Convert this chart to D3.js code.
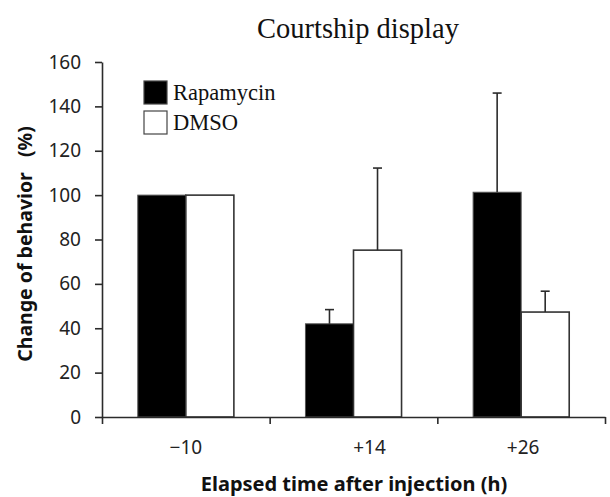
<!DOCTYPE html>
<html>
<head>
<meta charset="utf-8">
<script src="https://cdn.jsdelivr.net/npm/d3@7"></script>
<style>
  body { margin: 0; background: #fff; }
  svg { display: block; }
</style>
</head>
<body>
<svg id="chart" width="610" height="497"></svg>
<script>
// chart values
const groups = ['\u221210', '+14', '+26'];
const seriesNames = ['Rapamycin', 'DMSO'];
const rapamycin = [100, 42, 101.3];
const rapamycinErr = [0, 6.4, 44.7];
const dmso = [100, 75.2, 47.3];
const dmsoErr = [0, 37, 9.4];
const yTicks = [0, 20, 40, 60, 80, 100, 120, 140, 160];

const rows = groups.map((g, i) => ({
  group: g,
  values: [
    { key: seriesNames[0], value: rapamycin[i], err: rapamycinErr[i] },
    { key: seriesNames[1], value: dmso[i], err: dmsoErr[i] }
  ]
}));

const svg = d3.select('#chart');
const plotLeft = 102, plotRight = 605, plotTop = 62, plotBottom = 417;
const axisColor = '#2b2b2b';
const sans = "'Noto Sans', 'Open Sans', sans-serif";
const serif = "'Liberation Serif', 'DejaVu Serif', serif";

const color = d3.scaleOrdinal()
  .domain(seriesNames)
  .range(['#000000', '#ffffff']);

const x0 = d3.scaleBand()
  .domain(groups)
  .range([plotLeft, plotRight])
  .padding(0);

const x1 = d3.scaleBand()
  .domain(seriesNames)
  .range([0, x0.bandwidth()])
  .paddingInner(0)
  .paddingOuter(0.745);

const y = d3.scaleLinear()
  .domain([0, 160])
  .range([plotBottom, plotTop]);

// bars
const groupG = svg.append('g')
  .selectAll('g')
  .data(rows)
  .enter()
  .append('g')
  .attr('transform', d => `translate(${x0(d.group)},0)`);

groupG.selectAll('rect')
  .data(d => d.values)
  .enter()
  .append('rect')
  .attr('x', d => x1(d.key))
  .attr('y', d => y(d.value))
  .attr('width', x1.bandwidth())
  .attr('height', d => y(0) - y(d.value))
  .attr('fill', d => color(d.key))
  .attr('stroke', d => d.key === 'DMSO' ? '#333' : '#555')
  .attr('stroke-width', d => d.key === 'DMSO' ? 1.6 : 1);

// error bars (upper only)
const errG = groupG.selectAll('g.err')
  .data(d => d.values.filter(v => v.err > 0))
  .enter()
  .append('g')
  .attr('class', 'err')
  .attr('stroke', '#2b2b2b')
  .attr('stroke-width', 1.6);

errG.append('line')
  .attr('x1', d => x1(d.key) + x1.bandwidth() / 2)
  .attr('x2', d => x1(d.key) + x1.bandwidth() / 2)
  .attr('y1', d => y(d.value))
  .attr('y2', d => y(d.value + d.err));

errG.append('line')
  .attr('x1', d => x1(d.key) + x1.bandwidth() / 2 - 4.5)
  .attr('x2', d => x1(d.key) + x1.bandwidth() / 2 + 4.5)
  .attr('y1', d => y(d.value + d.err))
  .attr('y2', d => y(d.value + d.err));

// y axis
const yAxis = svg.append('g')
  .attr('transform', `translate(${plotLeft},0)`)
  .call(d3.axisLeft(y).tickValues(yTicks).tickSize(7).tickPadding(14).tickSizeOuter(0));
yAxis.select('.domain').attr('stroke', axisColor).attr('stroke-width', 1.6);
yAxis.selectAll('.tick line').attr('stroke', axisColor).attr('stroke-width', 1.6);
yAxis.selectAll('.tick text')
  .attr('font-family', sans)
  .attr('font-size', 19)
  .attr('fill', '#222');

// x axis: ticks at band edges, labels at band centres
const xEdges = d3.scaleLinear().domain([0, groups.length]).range([plotLeft, plotRight]);
const xAxis = svg.append('g')
  .attr('transform', `translate(0,${plotBottom})`)
  .call(d3.axisBottom(xEdges).tickValues(d3.range(groups.length + 1)).tickSize(7).tickFormat('').tickSizeOuter(0));
xAxis.select('.domain').attr('stroke', axisColor).attr('stroke-width', 1.6);
xAxis.selectAll('.tick line').attr('stroke', axisColor).attr('stroke-width', 1.6);

const labelShift = [0, 16, 2];
svg.append('g')
  .selectAll('text')
  .data(groups)
  .enter()
  .append('text')
  .attr('x', (d, i) => x0(d) + x0.bandwidth() / 2 + labelShift[i])
  .attr('y', 454)
  .attr('text-anchor', 'middle')
  .attr('font-family', sans)
  .attr('font-size', 19)
  .attr('fill', '#222')
  .text(d => d);

// axis titles
svg.append('text')
  .attr('x', 354)
  .attr('y', 491)
  .attr('text-anchor', 'middle')
  .attr('font-family', sans)
  .attr('font-weight', 'bold')
  .attr('font-size', 20)
  .attr('fill', '#111')
  .text('Elapsed time after injection (h)');

svg.append('text')
  .attr('transform', 'translate(32,244) rotate(-90)')
  .attr('text-anchor', 'middle')
  .attr('font-family', sans)
  .attr('font-weight', 'bold')
  .attr('font-size', 19.5)
  .attr('fill', '#111')
  .attr('xml:space', 'preserve')
  .text('Change of behavior   (%)');

// title
svg.append('text')
  .attr('x', 358)
  .attr('y', 38)
  .attr('text-anchor', 'middle')
  .attr('font-family', serif)
  .attr('font-size', 28.5)
  .attr('fill', '#111')
  .text('Courtship display');

// legend
const legend = svg.append('g')
  .selectAll('g')
  .data(seriesNames)
  .enter()
  .append('g')
  .attr('transform', (d, i) => `translate(144,${81 + i * 30})`);

legend.append('rect')
  .attr('width', 23)
  .attr('height', 23)
  .attr('fill', d => color(d))
  .attr('stroke', '#444')
  .attr('stroke-width', 1.2);

legend.append('text')
  .attr('x', 29)
  .attr('y', 19)
  .attr('font-family', serif)
  .attr('font-size', 22.5)
  .attr('fill', '#111')
  .text(d => d);
</script>
</body>
</html>
